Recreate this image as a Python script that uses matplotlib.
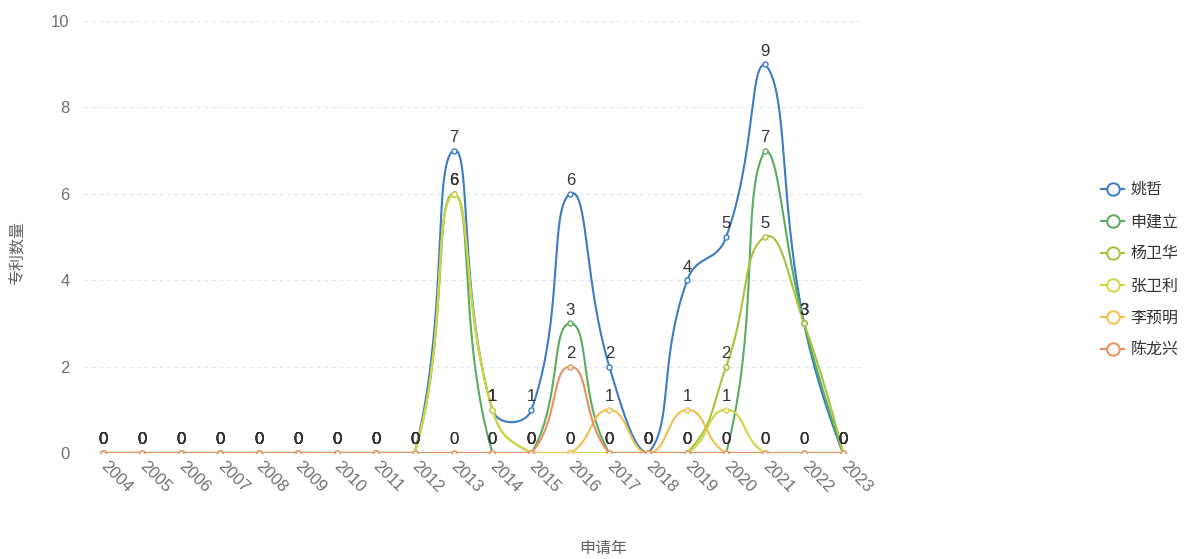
import numpy as np
import matplotlib
matplotlib.use("Agg")
from matplotlib import pyplot as plt
from matplotlib.lines import Line2D

# latin glyphs from Liberation Sans, chinese falls through to Noto CJK
plt.rcParams['font.family'] = ['Liberation Sans', 'Noto Sans CJK SC', 'DejaVu Sans']

years = ['2004', '2005', '2006', '2007', '2008', '2009', '2010', '2011', '2012', '2013',
         '2014', '2015', '2016', '2017', '2018', '2019', '2020', '2021', '2022', '2023']

names = ['姚哲', '申建立', '杨卫华', '张卫利', '李预明', '陈龙兴']

yao_zhe       = [0, 0, 0, 0, 0, 0, 0, 0, 0, 7, 1, 1, 6, 2, 0, 4, 5, 9, 3, 0]
shen_jianli   = [0, 0, 0, 0, 0, 0, 0, 0, 0, 6, 0, 0, 3, 0, 0, 0, 0, 7, 3, 0]
yang_weihua   = [0, 0, 0, 0, 0, 0, 0, 0, 0, 6, 1, 0, 0, 0, 0, 0, 2, 5, 3, 0]
zhang_weili   = [0, 0, 0, 0, 0, 0, 0, 0, 0, 6, 1, 0, 0, 0, 0, 0, 1, 0, 0, 0]
li_yuming     = [0, 0, 0, 0, 0, 0, 0, 0, 0, 0, 0, 0, 0, 1, 0, 1, 0, 0, 0, 0]
chen_longxing = [0, 0, 0, 0, 0, 0, 0, 0, 0, 0, 0, 0, 2, 0, 0, 0, 0, 0, 0, 0]

series = [yao_zhe, shen_jianli, yang_weihua, zhang_weili, li_yuming, chen_longxing]
colors = ['#3b7cc7', '#5aad5e', '#a5c33d', '#d3d546', '#f1c04c', '#e9905f']

W, H = 1187, 559
AXIS_COLOR = '#6e7079'
FS = 11.5


def smooth_curve(ax, xs, ys, smooth=0.5, n=40):
    # echarts-like smoothing, done in pixel space, controls clamped to the series box
    pts = ax.transData.transform(np.column_stack([xs, ys]))
    lo = pts.min(axis=0)
    hi = pts.max(axis=0)
    out = [pts[0]]
    cp0 = pts[0].copy()
    t = np.linspace(0, 1, n)[1:, None]
    for i in range(1, len(pts)):
        p = pts[i]
        prev = pts[i - 1]
        if i == len(pts) - 1:
            cp1 = p.copy()
            v = np.zeros(2)
            r = 0.5
        else:
            nxt = pts[i + 1]
            v = nxt - prev
            l0 = np.hypot(*(p - prev))
            l1 = np.hypot(*(nxt - p))
            r = l1 / (l0 + l1)
            cp1 = p - v * smooth * (1 - r)
        cp0 = np.clip(cp0, lo, hi)
        cp1 = np.clip(cp1, lo, hi)
        seg = ((1 - t) ** 3) * prev + 3 * ((1 - t) ** 2) * t * cp0 \
            + 3 * (1 - t) * t ** 2 * cp1 + t ** 3 * p
        out.extend(seg)
        cp0 = p + v * smooth * r
    out = ax.transData.inverted().transform(np.array(out))
    return out[:, 0], out[:, 1]


fig = plt.figure(figsize=(W / 100, H / 100), dpi=100)
ax = fig.add_axes([83.5 / W, (H - 453) / H, (862.5 - 83.5) / W, (453 - 21) / H])
x = np.arange(len(years))
ax.set_xlim(-0.5, len(years) - 0.5)
ax.set_ylim(0, 10)

for s in ax.spines.values():
    s.set_visible(False)
for yv in [2, 4, 6, 8, 10]:
    ax.axhline(yv, color='#e0e6f1', lw=0.9, ls=(0, (3, 3)), zorder=0)
ax.axhline(0, color='#e0e6f1', lw=1.0, zorder=0)

ax.set_yticks([0, 2, 4, 6, 8, 10])
ax.tick_params(axis='y', length=0, pad=10, labelsize=FS + 0.5, labelcolor=AXIS_COLOR)
ax.set_xticks(x)
ax.set_xticklabels(years, rotation=-45, ha='left', va='center', rotation_mode='anchor')
ax.tick_params(axis='x', length=0, pad=8, labelsize=FS + 0.5, labelcolor=AXIS_COLOR)

for k, (vals, c) in enumerate(zip(series, colors)):
    cx, cy = smooth_curve(ax, x, vals)
    ax.plot(cx, cy, color=c, lw=1.5, zorder=2 + k, solid_capstyle='round')
    ax.plot(x, vals, ls='none', marker='o', ms=3.6, mfc='white', mec=c, mew=1.0,
            zorder=2 + k)
    for xi, v in zip(x, vals):
        ax.annotate(str(v), (xi, v), xytext=(0, 4), textcoords='offset points',
                    ha='center', va='bottom', fontsize=FS + 0.5, color='#333333', zorder=20)

handles = [Line2D([], [], color=c, lw=1.5, marker='o', ms=9, mfc='#fbfbfb', mec=c, mew=1.4)
           for c in colors]
fig.legend(handles, names, loc='center left', bbox_to_anchor=(1093 / W, 1 - 270 / H),
           frameon=False, fontsize=FS, labelcolor='#333333', handlelength=1.45,
           handletextpad=0.4, labelspacing=1.07, borderpad=0)

fig.text(18 / W, 1 - 253 / H, '专利数量', rotation=90, ha='center', va='center',
         fontsize=FS, color='#606266')
fig.text(603 / W, 1 - 549 / H, '申请年', ha='center', va='center',
         fontsize=FS, color='#606266')

fig.savefig('out.png', dpi=100)
